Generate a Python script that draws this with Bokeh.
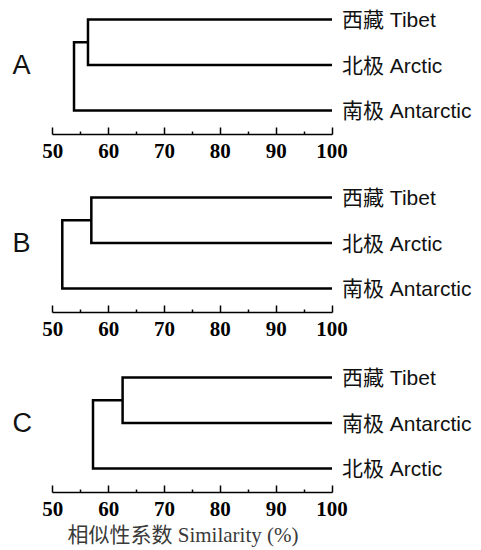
from bokeh.plotting import figure
from bokeh.layouts import column
from bokeh.models import Range1d, FixedTicker, Title
from bokeh.core.properties import value
from bokeh.embed import file_html
from bokeh.resources import INLINE

# ---------------- data ----------------
panel_letters = ["A", "B", "C"]
leaf_labels = [
    ["西藏 Tibet", "北极 Arctic", "南极 Antarctic"],
    ["西藏 Tibet", "北极 Arctic", "南极 Antarctic"],
    ["西藏 Tibet", "南极 Antarctic", "北极 Arctic"],
]
pair_join = [56.3, 56.9, 62.5]   # similarity (%) at which the first two leaves join
root_join = [53.8, 51.7, 57.2]   # similarity (%) at which the third leaf joins
axis_ticks = [50, 60, 70, 80, 90, 100]
minor_ticks = [55, 65, 75, 85, 95]
x_title = "相似性系数 Similarity (%)"

# ---------------- layout constants ----------------
FIG_W = 473
PX_PER_UNIT = 5.584
X_LEFT_PX = 52.3                    # pixel position of 50 inside the figure
x_start = axis_ticks[0] - X_LEFT_PX / PX_PER_UNIT
x_end = x_start + FIG_W / PX_PER_UNIT
LEAF_SPACING_PX = 45.5
BOTTOM_LEAF_PX = 24                 # distance from axis to lowest leaf
heights = [178, 180, 192]
borders = [44, 46, 58]

LABEL_FONT = value("Liberation Sans, Noto Sans CJK SC")
leaf_y = [3, 2, 1]


def make_panel(i):
    h = heights[i]
    b = borders[i]
    frame_h = h - b
    y0 = 1 - BOTTOM_LEAF_PX / LEAF_SPACING_PX
    y1 = y0 + frame_h / LEAF_SPACING_PX
    p = figure(width=FIG_W, height=h,
               x_range=Range1d(x_start, x_end), y_range=Range1d(y0, y1),
               output_backend="svg", toolbar_location=None,
               min_border_left=0, min_border_right=0, min_border_top=0,
               min_border_bottom=b, y_axis_location=None)
    p.outline_line_color = None
    p.grid.visible = False
    p.background_fill_color = "white"
    p.border_fill_color = "white"

    ax = p.xaxis[0]
    ax.ticker = FixedTicker(ticks=axis_ticks, minor_ticks=minor_ticks)
    ax.bounds = (axis_ticks[0], axis_ticks[-1])
    ax.major_tick_in = 7
    ax.major_tick_out = 0
    ax.minor_tick_in = 3
    ax.minor_tick_out = 0
    ax.axis_line_width = 1.5
    ax.major_tick_line_width = 1.5
    ax.minor_tick_line_width = 1.5
    ax.axis_line_color = "black"
    ax.major_tick_line_color = "black"
    ax.minor_tick_line_color = "black"
    ax.major_label_text_font = "Liberation Serif"
    ax.major_label_text_font_style = "bold"
    ax.major_label_text_font_size = "21px"
    ax.major_label_text_color = "black"
    ax.major_label_standoff = 9
    if i == 2:
        t = Title(text=x_title, align="left", offset=67, standoff=5,
                  text_font="Liberation Serif, Noto Sans CJK SC",
                  text_font_style="normal", text_font_size="21px",
                  text_color="#3a3a3a")
        p.add_layout(t, "below")

    j = pair_join[i]
    r = root_join[i]
    end = axis_ticks[-1]
    xs = [[end, j, j, end], [j, r, r, end]]
    ys = [[leaf_y[0], leaf_y[0], leaf_y[1], leaf_y[1]],
          [(leaf_y[0] + leaf_y[1]) / 2, (leaf_y[0] + leaf_y[1]) / 2, leaf_y[2], leaf_y[2]]]
    p.multi_line(xs=xs, ys=ys, line_width=2.5, line_color="black", line_join="miter")

    p.text(x=[end] * 3, y=leaf_y, text=leaf_labels[i], x_offset=10,
           text_baseline="middle", text_align="left",
           text_font=LABEL_FONT, text_font_size="21px", text_color="#111111")
    p.text(x=[x_start], y=[leaf_y[1]], text=[panel_letters[i]], x_offset=12,
           text_baseline="middle", text_align="left",
           text_font=value("Liberation Sans"), text_font_size="27px", text_color="#111111")
    return p


layout = column(*[make_panel(i) for i in range(3)], spacing=0)

with open("out.html", "w") as f:
    f.write(file_html(layout, INLINE))
